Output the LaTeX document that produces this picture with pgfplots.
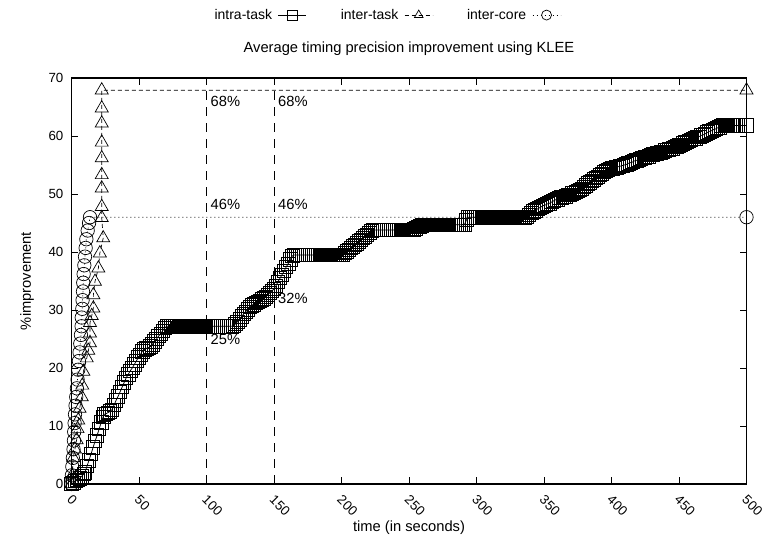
\documentclass[border=0pt]{standalone}
\usepackage{fontspec}
\setmainfont{Liberation Sans}
\usepackage{pgfplots}
\pgfplotsset{compat=1.18}
\begin{document}
\fontsize{14.7bp}{17bp}\selectfont
\begin{tikzpicture}
\begin{axis}[
  scale only axis, width=675bp, height=406bp,
  xmin=0, xmax=500, ymin=0, ymax=70,
  xtick={0,50,...,500}, ytick={0,10,...,70},
  tick align=inside, major tick length=7bp,
  axis line style={line width=1.1bp},
  every tick/.style={black, line width=0.9bp},
  clip=false,
  /pgf/number format/assume math mode=true,
  xticklabel style={font=\fontsize{13.3bp}{15bp}\selectfont, xshift=1.5bp, yshift=-10bp, rotate=-45, anchor=north west, inner sep=0pt},
  yticklabel style={font=\fontsize{13.3bp}{15bp}\selectfont, anchor=east, inner sep=0pt, xshift=-8bp},
  xlabel={time (in seconds)},
  xlabel style={at={(axis description cs:0.5,-0.108)}, anchor=center, inner sep=0pt},
  ylabel={\%improvement},
  ylabel style={at={(axis description cs:-0.0659,0.5)}, anchor=center, inner sep=0pt},
  title={Average timing precision improvement using KLEE},
  title style={at={(axis description cs:0.5,1.0567)}, anchor=center, yshift=0pt, inner sep=0pt},
  legend columns=3, legend plot pos=right,
  legend style={draw=none, fill=none, at={(axis description cs:0.467,1.155)}, anchor=center,
    inner sep=0pt, column sep=4bp, font=\fontsize{14bp}{16bp}\selectfont,
    /tikz/every even column/.append style={column sep=32bp}},
  legend image code/.code={\draw[mark repeat=2,mark phase=2,#1,mark size=5bp] plot coordinates {(0bp,0bp) (14bp,0bp) (28bp,0bp)};},
]
\addplot[black, line width=0.75bp, mark=square, mark size=6.7bp] coordinates {
(0,0)(1.5,0.2)(3,0.5)(4.5,0.7)(6,1)(7.5,1.3)(9,1.7)(10,2)
(11.5,3.1)(13,4.1)(14.5,5.2)(16,6.3)(17.5,7.4)(19,8.4)(20.5,9.5)(22,10.6)(23.5,11.6)(24,12)
(25.5,12.1)(27,12.3)(28.5,12.5)(30,12.8)
(31.5,13.6)(33,14.4)(34.5,15.1)(36,15.9)(37.5,16.7)(39,17.5)(40.5,18.3)
(42,18.9)(43.5,19.5)(45,20.0)(46.5,20.6)(48,21.2)(49.5,21.8)(51,22.3)(52.5,22.9)
(54,23.2)(55.5,23.4)(57,23.5)(58.5,23.7)
(60,24.1)(61.5,24.6)(63,25.0)(64.5,25.5)(66,25.9)(67.5,26.4)(69,26.9)(70.5,27.2)
(72,27.2)(73.5,27.2)(75,27.2)(76.5,27.2)(78,27.2)(79.5,27.2)(81,27.2)(82.5,27.2)(84,27.2)(85.5,27.2)(87,27.2)(88.5,27.2)(90,27.2)(91.5,27.2)(93,27.2)(94.5,27.2)(96,27.2)(97.5,27.2)(99,27.2)(100.5,27.2)(102,27.2)(103.5,27.2)(105,27.2)(106.5,27.2)(108,27.2)(109.5,27.2)(111,27.2)(112.5,27.2)(114,27.2)(115.5,27.2)(117,27.2)(118.5,27.2)
(120,27.3)(121.5,27.6)(123,28)(124.5,28.4)(126,28.9)(127.5,29.3)(129,29.7)(130.5,30.1)(132,30.5)(133.5,30.8)(135,31)(136.5,31.2)(138,31.4)(139.5,31.6)(141,31.8)(142.5,32)(144,32.3)(145.5,32.6)(147,33)(148.5,33.3)(150,33.6)(151.5,34.2)(153,34.9)(154.5,35.5)(156,36.1)(157.5,36.7)(159,37.4)(160.5,38)(162,38.7)(163.5,39.3)
(165,39.5)(166.5,39.5)(168,39.5)(169.5,39.5)(171,39.5)(172.5,39.5)(174,39.5)(175.5,39.5)(177,39.5)(178.5,39.5)(180,39.5)(181.5,39.5)(183,39.5)(184.5,39.5)(186,39.5)(187.5,39.5)(189,39.5)(190.5,39.5)(192,39.5)(193.5,39.5)(195,39.5)(196.5,39.5)(198,39.5)(199.5,39.5)(201,39.5)
(202.5,39.8)(204,40.1)(205.5,40.4)(207,40.7)(208.5,41)(210,41.2)(211.5,41.5)(213,41.8)(214.5,42.1)(216,42.4)(217.5,42.7)(219,43)(220.5,43.3)(222,43.6)(223.5,43.8)
(225,43.8)(226.5,43.8)(228,43.8)(229.5,43.8)(231,43.8)(232.5,43.8)(234,43.8)(235.5,43.8)(237,43.8)(238.5,43.8)(240,43.8)(241.5,43.8)(243,43.8)(244.5,43.8)(246,43.8)(247.5,43.8)(249,43.8)(250.5,43.8)(252,43.8)
(253.5,43.9)(255,44.1)(256.5,44.3)(258,44.4)(259.5,44.6)
(261,44.7)(262.5,44.7)(264,44.7)(265.5,44.7)(267,44.7)(268.5,44.7)(270,44.7)(271.5,44.7)(273,44.7)(274.5,44.7)(276,44.7)(277.5,44.7)(279,44.7)(280.5,44.7)(282,44.7)(283.5,44.7)(285,44.7)(286.5,44.7)(288,44.7)(289.5,44.7)(291,44.7)
(292.5,45.5)(294,46)
(295.5,46)(297,46)(298.5,46)(300,46)(301.5,46)(303,46)(304.5,46)(306,46)(307.5,46)(309,46)(310.5,46)(312,46)(313.5,46)(315,46)(316.5,46)(318,46)(319.5,46)(321,46)(322.5,46)(324,46)(325.5,46)(327,46)(328.5,46)(330,46)(331.5,46)(333,46)(334.5,46)(336,46)
(337.5,46.1)(339,46.4)(340.5,46.7)(342,47)(343.5,47.2)(345,47.4)(346.5,47.6)(348,47.8)(349.5,48)(351,48.1)(352.5,48.3)(354,48.4)(355.5,48.6)(357,48.8)(358.5,49)(360,49.1)(361.5,49.3)(363,49.4)(364.5,49.5)(366,49.6)(367.5,49.8)(369,49.9)(370.5,50.1)(372,50.2)(373.5,50.4)(375,50.5)(376.5,50.7)(378,50.9)(379.5,51.2)(381,51.5)(382.5,51.8)(384,52)(385.5,52.3)(387,52.5)(388.5,52.8)(390,53)(391.5,53.3)(393,53.5)(394.5,53.8)(396,54)(397.5,54.2)(399,54.3)(400.5,54.4)(402,54.5)(403.5,54.6)(405,54.7)(406.5,54.8)(408,54.9)(409.5,55)(411,55.1)(412.5,55.3)(414,55.4)(415.5,55.5)(417,55.7)(418.5,55.8)(420,55.9)(421.5,56.1)(423,56.2)(424.5,56.3)(426,56.4)(427.5,56.5)(429,56.7)(430.5,56.8)(432,56.9)(433.5,57)(435,57.1)(436.5,57.2)(438,57.3)(439.5,57.5)(441,57.6)(442.5,57.7)(444,57.8)(445.5,57.9)(447,58.1)(448.5,58.2)(450,58.4)(451.5,58.5)(453,58.7)(454.5,58.9)(456,59)(457.5,59.2)(459,59.3)(460.5,59.5)(462,59.6)(463.5,59.8)(465,59.9)(466.5,60.1)(468,60.2)(469.5,60.4)(471,60.6)(472.5,60.8)(474,60.9)(475.5,61.1)(477,61.2)(478.5,61.4)(480,61.5)(481.5,61.7)(483,61.8)
(484.5,61.8)(486,61.8)(487.5,61.8)(489,61.8)(490.5,61.8)(492,61.8)(493.5,61.8)(495,61.8)(500,61.8)
};
\addlegendentry{intra-task}
\addplot[black, line width=0.7bp, dash pattern=on 4bp off 3bp, mark=triangle, mark size=7.5bp, mark options={solid}] coordinates {
(0,0)(0.5,1.5)(1.3,4.5)(2.5,6)(3.8,7.6)(4.5,9.5)(5,11)(6,13)(7.6,15)(8,17)(8.8,19.4)(11.3,21.7)(12.5,23)(13.7,24.3)(13.7,26)(13.7,27.8)(15,29)(16.2,30.3)(16.2,32.6)(17.4,34.9)(19.9,37.2)(21,39.8)(23.5,42.4)(22.4,45.9)(22.4,47.8)(22.4,51)(22.4,53.3)(22.4,56.2)(22.4,58.9)(22.4,62.2)(22.4,64.8)(22.4,67.9)(500,67.9)
};
\addlegendentry{inter-task}
\addplot[black, line width=0.7bp, dash pattern=on 1bp off 3bp, mark=o, mark size=6.7bp, mark options={solid}] coordinates {
(0,0)(0.3,1.5)(0.6,3)(1,4.5)(1.5,6)(1.8,7.5)(2,9)(2.3,10.5)(2.6,12)(3,13.5)(3.5,15)(4,16.5)(4.5,18)(5,19.7)(5.5,21.2)(6,22.7)(6.5,24.2)(7,25.7)(7.5,27.2)(7.6,28.7)(8,30.2)(8.2,31.7)(8.5,33.2)(8.7,34.7)(9,36.2)(9.5,37.7)(10,39.2)(10.5,40.7)(11,42.2)(12,43.7)(13,45)(13.7,46)(500,46)
};
\addlegendentry{inter-core}
\addplot[black, line width=1bp, dash pattern=on 9bp off 7bp, forget plot] coordinates {(100,0)(100,70)};
\addplot[black, line width=1bp, dash pattern=on 9bp off 7bp, forget plot] coordinates {(150,0)(150,70)};
\node[anchor=west, inner sep=0pt, xshift=4bp] at (axis cs:100,66) {68\%};
\node[anchor=west, inner sep=0pt, xshift=4bp] at (axis cs:150,66) {68\%};
\node[anchor=west, inner sep=0pt, xshift=4bp] at (axis cs:100,48.2) {46\%};
\node[anchor=west, inner sep=0pt, xshift=4bp] at (axis cs:150,48.2) {46\%};
\node[anchor=west, inner sep=0pt, xshift=4bp] at (axis cs:100,25) {25\%};
\node[anchor=west, inner sep=0pt, xshift=4bp] at (axis cs:150,32) {32\%};
\end{axis}
\path (current axis.south west) ++(-71.5bp,-58bp) rectangle ++(772bp,542bp);
\end{tikzpicture}
\end{document}
